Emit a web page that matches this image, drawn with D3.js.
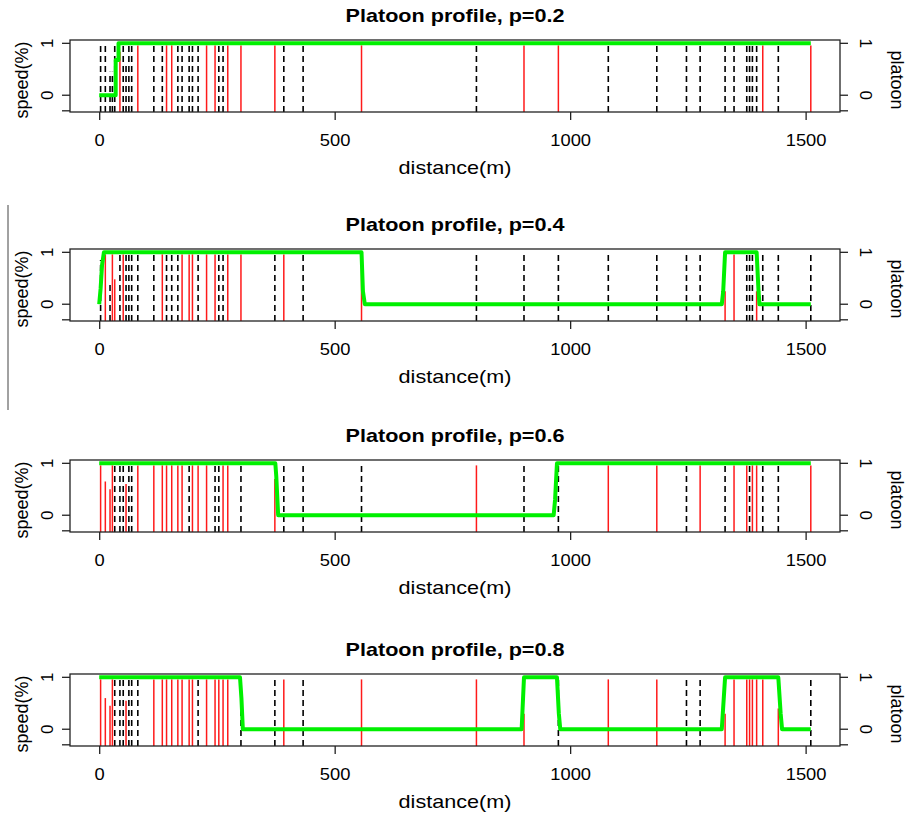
<!DOCTYPE html>
<html>
<head>
<meta charset="utf-8">
<script src="https://cdn.jsdelivr.net/npm/d3@7/dist/d3.min.js"></script>
<style>
  body { margin: 0; background: #fff; }
  text { font-family: "Liberation Sans", Arial, sans-serif; fill: #000; }
</style>
</head>
<body>
<svg id="chart" width="907" height="817"></svg>
<script>
// vehicle positions along the road (m), same in every run
var dist = [3, 13, 23, 28, 33, 44, 51, 57, 63, 69, 82, 116, 134, 143, 154, 167, 176, 191, 198, 210,
            228, 246, 254, 263, 273, 301, 373, 392, 433, 557, 801, 902, 975, 1081, 1184, 1247, 1276,
            1329, 1348, 1375, 1381, 1387, 1396, 1409, 1442, 1511];

var pValues = ["0.2", "0.4", "0.6", "0.8"];

// equipped vehicles (red lines) per run, the rest are dashed black
var red02 = [44, 82, 143, 154, 228, 246, 273, 301, 373, 557, 902, 975, 1409, 1511];
var red04 = [13, 28, 33, 51, 134, 176, 191, 198, 228, 246, 273, 301, 392, 557, 1329, 1348, 1396];
var red06 = [3, 13, 23, 28, 57, 82, 116, 134, 143, 154, 167, 176, 198, 210, 228, 263, 273, 373,
             801, 1081, 1184, 1276, 1348, 1375, 1387, 1396, 1511];
var red08 = [3, 13, 23, 28, 57, 116, 134, 143, 154, 167, 176, 191, 198, 228, 246, 254, 263, 273,
             392, 557, 801, 902, 1081, 1184, 1329, 1348, 1375, 1381, 1387, 1396, 1409, 1442];

// speed of each vehicle; most run near free flow
var baseSpeed = 0.96;
var slow02 = [[23, 0.45], [28, 0.45], [44, 0.84], [57, 0.64]];
var slow04 = [[3, 0.85], [23, 0.4], [33, 0.48], [557, 0.73], [1329, 0.25], [1396, 0.25]];
var slow06 = [[13, 0.65], [23, 0.5], [57, 0.6], [373, 0.7]];
var slow08 = [[13, 0.6], [23, 0.45], [57, 0.55], [902, 0.3], [1329, 0.3], [1442, 0.4]];

// platoon indicator (green line)
var platX02 = [0, 35, 35, 41, 41, 1511];
var platY02 = [0, 0, 0.68, 0.68, 1, 1];
var platX04 = [0, 3, 6, 10, 557, 560, 564, 1322, 1325, 1329, 1396, 1400, 1402, 1511];
var platY04 = [0, 0.3, 0.75, 1, 1, 0.25, 0, 0, 0.25, 1, 1, 0.25, 0, 0];
var platX06 = [0, 374, 376, 380, 965, 968, 972, 1511];
var platY06 = [1, 1, 0.75, 0, 0, 0.3, 1, 1];
var platX08 = [0, 299, 302, 305, 897, 902, 972, 976, 979, 1322, 1329, 1442, 1447, 1450, 1511];
var platY08 = [1, 1, 0.6, 0, 0, 1, 1, 0.3, 0, 0, 1, 1, 0.3, 0, 0];

var xTicks = [0, 500, 1000, 1500];
var yTicks = [-0.3, 0, 1];
var yLabelled = [0, 1];

var runs = [
  {p: pValues[0], red: red02, slow: slow02, px: platX02, py: platY02},
  {p: pValues[1], red: red04, slow: slow04, px: platX04, py: platY04},
  {p: pValues[2], red: red06, slow: slow06, px: platX06, py: platY06},
  {p: pValues[3], red: red08, slow: slow08, px: platX08, py: platY08}
];

var svg = d3.select("#chart");
var left = 70, right = 840, boxH = 72;
var tops = [40, 249, 460, 674];
var stretch = "scale(1.2,1)";   // the source picture is wider than tall

var x = d3.scaleLinear().domain([-62, 1573]).range([left, right]);

// stray scan line on the left edge of the page
svg.append("line")
  .attr("x1", 8).attr("x2", 8)
  .attr("y1", 205).attr("y2", 410)
  .attr("stroke", "#444").attr("stroke-width", 1);

runs.forEach(function(run, i) {
  var top = tops[i], bottom = top + boxH, mid = top + boxH / 2 + 4;
  var y = d3.scaleLinear().domain([-0.323, 1.064]).range([bottom, top]);
  var g = svg.append("g");

  var slowMap = new Map(run.slow);
  var cars = dist.map(function(d) {
    return {d: d, red: run.red.indexOf(d) >= 0, v: slowMap.has(d) ? slowMap.get(d) : baseSpeed};
  });

  // dashed black first, red on top
  g.selectAll(".car-b").data(cars.filter(function(c) { return !c.red; }))
    .enter().append("line")
      .attr("x1", function(c) { return x(c.d); })
      .attr("x2", function(c) { return x(c.d); })
      .attr("y1", bottom)
      .attr("y2", function(c) { return y(c.v); })
      .attr("stroke", "#000")
      .attr("stroke-width", 1.6)
      .attr("stroke-dasharray", "6,4");

  g.selectAll(".car-r").data(cars.filter(function(c) { return c.red; }))
    .enter().append("line")
      .attr("x1", function(c) { return x(c.d); })
      .attr("x2", function(c) { return x(c.d); })
      .attr("y1", bottom)
      .attr("y2", function(c) { return y(c.v); })
      .attr("stroke", "#ff1a1a")
      .attr("stroke-width", 1.5);

  var pts = run.px.map(function(d, k) { return [d, run.py[k]]; });
  g.append("path")
    .datum(pts)
    .attr("fill", "none")
    .attr("stroke", "#00f000")
    .attr("stroke-width", 4)
    .attr("stroke-linejoin", "round")
    .attr("d", d3.line().x(function(p) { return x(p[0]); }).y(function(p) { return y(p[1]); }));

  // box
  g.append("rect")
    .attr("x", left).attr("y", top)
    .attr("width", right - left).attr("height", boxH)
    .attr("fill", "none").attr("stroke", "#222").attr("stroke-width", 1.3);

  // bottom axis
  var xa = g.append("g").attr("transform", "translate(0," + bottom + ")")
    .call(d3.axisBottom(x).tickValues(xTicks).tickSize(8).tickPadding(14).tickFormat(d3.format("d")));
  xa.select(".domain").remove();
  xa.selectAll("line").attr("stroke", "#222").attr("stroke-width", 1.3);
  xa.selectAll("text").style("font-size", "17px").attr("fill", "#000")
    .attr("transform", "scale(1.08,1)")
    .style("font-family", "'Liberation Sans', Arial, sans-serif");

  // left and right ticks
  [[left, -1], [right, 1]].forEach(function(side) {
    g.selectAll(null).data(yTicks).enter().append("line")
      .attr("x1", side[0]).attr("x2", side[0] + side[1] * 8)
      .attr("y1", function(t) { return y(t); }).attr("y2", function(t) { return y(t); })
      .attr("stroke", "#222").attr("stroke-width", 1.3);
  });
  g.selectAll(null).data(yLabelled).enter().append("text")
    .attr("transform", function(t) { return "translate(47," + y(t) + ") rotate(-90)"; })
    .attr("text-anchor", "middle").attr("dy", "0.35em")
    .style("font-size", "17px")
    .text(function(t) { return t; });
  g.selectAll(null).data(yLabelled).enter().append("text")
    .attr("transform", function(t) { return "translate(866," + y(t) + ") rotate(90)"; })
    .attr("text-anchor", "middle").attr("dy", "0.35em")
    .style("font-size", "17px")
    .text(function(t) { return t; });

  // titles and axis names
  g.append("text")
    .attr("transform", "translate(" + (left + right) / 2 + "," + (top - 18) + ") " + stretch)
    .attr("text-anchor", "middle")
    .style("font-size", "18px").style("font-weight", "bold")
    .text("Platoon profile, p=" + run.p);

  g.append("text")
    .attr("transform", "translate(" + (left + right) / 2 + "," + (bottom + 62) + ") " + stretch)
    .attr("text-anchor", "middle")
    .style("font-size", "18px")
    .text("distance(m)");

  g.append("text")
    .attr("transform", "translate(22," + mid + ") rotate(-90)")
    .attr("text-anchor", "middle").attr("dy", "0.35em")
    .style("font-size", "18px")
    .text("speed(%)");

  g.append("text")
    .attr("transform", "translate(897," + mid + ") rotate(90)")
    .attr("text-anchor", "middle").attr("dy", "0.35em")
    .style("font-size", "18px")
    .text("platoon");
});
</script>
</body>
</html>
